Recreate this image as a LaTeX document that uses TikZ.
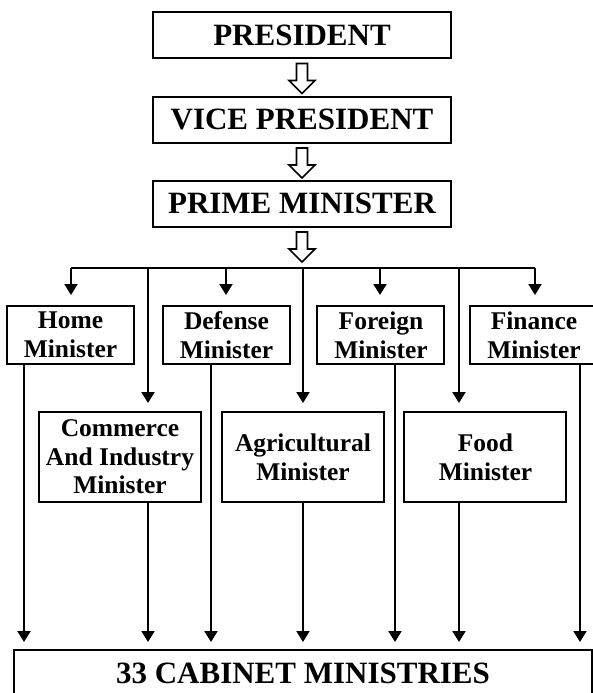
\documentclass[tikz,border=0pt]{standalone}
\usepackage{fontspec}
\setmainfont{Liberation Serif}
\usetikzlibrary{arrows.meta}

\begin{document}
\begin{tikzpicture}[x=0.5pt, y=-0.5pt, line width=1pt,
    office/.style ={rectangle, draw, inner sep=0pt, minimum width=149pt, minimum height=23pt,
      font=\fontsize{15.5}{18}\selectfont\bfseries},
    minister/.style ={rectangle, draw, inner sep=0pt, minimum width=63.5pt, minimum height=29pt,
      align=center, font=\fontsize{12.75}{14.3}\selectfont\bfseries},
    bigminister/.style ={minister, minimum width=81pt, minimum height=45pt},
    link/.style ={-{Triangle[width=6.5pt,length=5.5pt]}},
    hollow/.style ={line width=0.85pt, line join=miter}]
   \clip (0,0) rectangle (593,693);

   \node[office] (P) at (302,35) {PRESIDENT};
   \node[office] (VP) at (302,119.5) {VICE PRESIDENT};
   \node[office] (PM) at (302,203.5) {PRIME MINISTER};

   \node[minister] (HM) at (70.5,335) {Home\\Minister};
   \node[minister] (DM) at (226.5,335) {Defense\\Minister};
   \node[minister] (FM) at (381,335) {Foreign\\Minister};
   \node[minister] (FiM) at (534,335) {Finance\\Minister};

   \node[bigminister] (CM) at (120,457) {Commerce\\And Industry\\Minister};
   \node[bigminister] (AM) at (303,457) {Agricultural\\Minister};
   \node[bigminister] (FoM) at (485.5,457) {Food\\Minister};

   \node[office, minimum width=289pt] (CAB) at (303,673) {33 CABINET MINISTRIES};

   % hollow arrows under the top offices
   \foreach \n in {P,VP,PM}
     \draw[hollow, shift={(\n.south)}] (-5.5,4.5) -- (5.5,4.5) -- (5.5,21.5) -- (13,21.5)
       -- (0,34.5) -- (-13,21.5) -- (-5.5,21.5) -- cycle;

   % bus under the prime minister
   \foreach \x [count=\i] in {71,148,226,303,380,459,535}
     \coordinate (b\i) at (\x,267.5);
   \draw (b1) -- (b7);

   \foreach \i/\n in {1/HM,3/DM,5/FM,7/FiM}
     \draw[link, shorten >=5pt] (b\i) -- (b\i |- \n.north);
   \foreach \i/\n in {2/CM,4/AM,6/FoM}
     \draw[link, shorten >=4pt] (b\i) -- (b\i |- \n.north);

   % down to the cabinet
   \foreach \x/\n [count=\i] in {24/HM,211/DM,395/FM,580/FiM} {
     \coordinate (e\i) at (\x,0);
     \draw[link, shorten >=3.5pt] (e\i |- \n.south) -- (e\i |- CAB.north);
   }
   \foreach \i/\n in {2/CM,4/AM,6/FoM}
     \draw[link, shorten >=3.5pt] (b\i |- \n.south) -- (b\i |- CAB.north);
\end{tikzpicture}
\end{document}
